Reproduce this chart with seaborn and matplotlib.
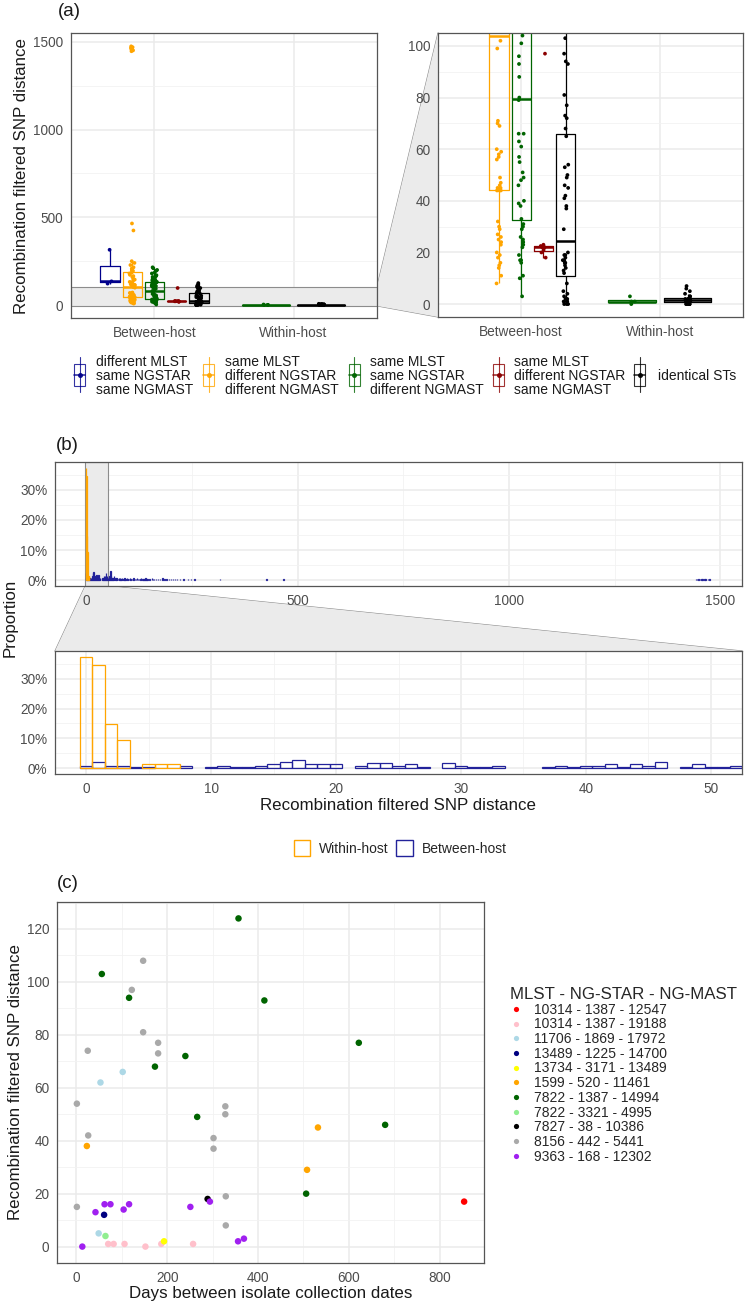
import numpy as np
import pandas as pd
import matplotlib
matplotlib.use("Agg")
import matplotlib.pyplot as plt
from matplotlib.patches import Polygon, Rectangle, Patch
from matplotlib.lines import Line2D
from matplotlib.ticker import MultipleLocator, PercentFormatter
import seaborn as sns

sns.set_style("white")
plt.rcParams["font.family"] = ["Liberation Sans", "DejaVu Sans"]

W, H = 745, 1306

# ── (a) SNP distance by ST-difference group ──────────────────────────
HOSTS = ["Between-host", "Within-host"]
GROUP_LABELS = [
    "different MLST\nsame NGSTAR\nsame NGMAST",
    "same MLST\ndifferent NGSTAR\ndifferent NGMAST",
    "same MLST\nsame NGSTAR\ndifferent NGMAST",
    "same MLST\ndifferent NGSTAR\nsame NGMAST",
    "identical STs",
]
GROUP_COLORS = ["#00008B", "#FFA500", "#006400", "#8B0000", "#000000"]

bh_diff_mlst = [122, 135, 315]
bh_diff_star_mast = [102, 99, 71, 70, 69, 60, 59, 58, 57, 56, 49, 47, 46, 45, 45, 44, 44, 44,
                     32, 30, 29, 27, 26, 25, 24, 23, 20, 19, 18, 16, 15, 14, 11, 8,
                     1475, 1470, 1466, 1462, 1458, 1452, 1447, 465, 425, 250, 240, 228, 215,
                     208, 200, 195, 192, 185, 180, 172, 165, 160, 150, 145, 140, 132, 128,
                     122, 118, 115, 112, 110, 108, 106]
bh_diff_mast = [104, 101, 96, 93, 88, 80, 79, 66, 66, 63, 61, 57, 55, 51, 49, 48, 46, 40, 39,
                38, 33, 31, 30, 29, 26, 25, 24, 23, 22, 19, 17, 17, 16, 11, 10, 3,
                108, 110, 112, 115, 118, 120, 125, 128, 132, 138, 140, 142, 145, 150, 155,
                160, 165, 170, 180, 185, 195, 200, 210, 215]
bh_diff_star = [18, 20, 21, 22, 22, 22.5, 23, 97]
bh_identical = [8, 5, 4, 3, 2, 2, 1, 1, 1, 0, 0, 0,
                12, 13, 14, 15, 16, 16, 17, 17, 18, 19, 19, 20,
                29, 37, 38, 41, 42, 45, 46, 49, 50, 53, 54, 65,
                68, 72, 73, 77, 81, 93, 94, 97, 103, 110, 118, 125]
wh_diff_mast = [0, 1, 1, 3]
wh_identical = [0, 0, 0, 0, 0, 0, 1, 1, 1, 1, 1, 1, 2, 2, 2, 2, 2, 2, 3, 3, 4, 5, 6, 7]

# ── (b) histogram of SNP distances (counts per integer distance) ─────
within_snp = [0, 1, 2, 3, 5, 6, 7]
within_n = [28, 26, 11, 7, 1, 1, 1]
between_snp = [0, 1, 2, 3, 4, 5, 8, 10, 11, 12, 13, 14, 15, 16, 17, 18, 19, 20, 22, 23, 24, 25,
               26, 27, 29, 30, 31, 32, 33, 37, 38, 39, 40, 41, 42, 43, 44, 45, 46, 48, 49, 50,
               51, 52, 53, 54, 55, 56, 57, 58, 59, 60, 61, 62, 63, 64, 65, 66, 68, 69, 70, 71,
               72, 73, 75, 77, 79, 80, 81, 83, 85, 87, 88, 90, 93, 94, 96, 97, 99, 101, 103,
               105, 108, 110, 112, 115, 118, 120, 122, 125, 128, 130, 133, 135, 138, 140, 142,
               145, 150, 155, 158, 160, 165, 170, 175, 180, 185, 190, 195, 200, 205, 210, 215,
               222, 230, 240, 248, 256, 316, 426, 466, 1442, 1445, 1448, 1452, 1455, 1458,
               1462, 1465, 1470, 1474]
between_n = [2, 5, 2, 2, 1, 1, 2, 1, 2, 1, 1, 2, 3, 5, 6, 3, 3, 3, 2, 4, 4, 2,
             3, 1, 4, 2, 1, 1, 2, 1, 2, 1, 2, 2, 3, 1, 3, 2, 5, 1, 3, 1,
             1, 2, 1, 2, 3, 1, 7, 1, 3, 2, 1, 2, 1, 2, 1, 3, 1, 2, 1, 2,
             1, 2, 1, 2, 1, 2, 1, 1, 2, 1, 1, 2, 1, 1, 2, 1, 1, 1, 2,
             1, 1, 1, 2, 1, 1, 2, 1, 1, 1, 2, 1, 1, 1, 2, 1,
             1, 1, 2, 1, 1, 1, 1, 1, 2, 1, 1, 1, 1, 1, 1, 1,
             1, 1, 1, 1, 1, 1, 1, 1, 1, 1, 1, 1, 1, 1,
             1, 1, 1, 1]

# ── (c) SNP distance vs days between collection dates ────────────────
ST_ORDER = ["10314 - 1387 - 12547", "10314 - 1387 - 19188", "11706 - 1869 - 17972",
            "13489 - 1225 - 14700", "13734 - 3171 - 13489", "1599 - 520 - 11461",
            "7822 - 1387 - 14994", "7822 - 3321 - 4995", "7827 - 38 - 10386",
            "8156 - 442 - 5441", "9363 - 168 - 12302"]
ST_COLORS = ["#FF0000", "#FFC0CB", "#ADD8E6", "#000080", "#FFFF00", "#FFA500",
             "#006400", "#90EE90", "#000000", "#A9A9A9", "#A020F0"]
c_st = (["10314 - 1387 - 12547"] * 1 + ["10314 - 1387 - 19188"] * 6 + ["11706 - 1869 - 17972"] * 3
        + ["13489 - 1225 - 14700"] * 1 + ["13734 - 3171 - 13489"] * 1 + ["1599 - 520 - 11461"] * 3
        + ["7822 - 1387 - 14994"] * 10 + ["7822 - 3321 - 4995"] * 1 + ["7827 - 38 - 10386"] * 1
        + ["8156 - 442 - 5441"] * 15 + ["9363 - 168 - 12302"] * 10)
c_days = [854,
          70, 82, 106, 152, 187, 257,
          102, 53, 49,
          61,
          193,
          532, 23, 508,
          357, 56, 116, 414, 622, 240, 173, 266, 680, 506,
          64,
          289,
          147, 122, 147, 180, 25, 180, 1, 328, 328, 26, 302, 302, 329, 1, 329,
          294, 42, 62, 75, 116, 104, 251, 13, 356, 369]
c_snp = [17,
         1, 1, 1, 0, 1, 1,
         66, 62, 5,
         12,
         2,
         45, 38, 29,
         124, 103, 94, 93, 77, 72, 68, 49, 46, 20,
         4,
         18,
         108, 97, 81, 77, 74, 73, 54, 53, 50, 42, 41, 37, 19, 15, 8,
         17, 13, 16, 16, 16, 14, 15, 0, 2, 3]

# ── figure ───────────────────────────────────────────────────────────
fig = plt.figure(figsize=(W / 100, H / 100), dpi=100)
TITLE_FS = 12.2


def px_axes(l, t, r, b):
    return fig.add_axes([l / W, 1 - b / H, (r - l) / W, (b - t) / H])


def theme_bw(ax, xmaj=None, xmin=None, ymaj=None, ymin=None):
    for s in ax.spines.values():
        s.set_color("#555555")
        s.set_linewidth(0.9)
    if xmaj:
        ax.xaxis.set_major_locator(MultipleLocator(xmaj))
        ax.xaxis.set_minor_locator(MultipleLocator(xmin))
    if ymaj:
        ax.yaxis.set_major_locator(MultipleLocator(ymaj))
        ax.yaxis.set_minor_locator(MultipleLocator(ymin))
    ax.grid(True, which="major", color="#EBEBEB", lw=1.1)
    ax.grid(True, which="minor", color="#F2F2F2", lw=0.6)
    ax.set_axisbelow(True)
    ax.tick_params(which="major", length=3, width=0.8, color="#333333",
                   labelcolor="#4D4D4D", labelsize=9.8, pad=2.5)
    ax.tick_params(which="minor", length=0)


def to_fig(ax, x, y):
    return fig.transFigure.inverted().transform(ax.transData.transform((x, y)))


# ── panel (a) ────────────────────────────────────────────────────────
rows = []
for grp, vals in zip(GROUP_LABELS, [bh_diff_mlst, bh_diff_star_mast, bh_diff_mast, bh_diff_star, bh_identical]):
    rows += [("Between-host", grp, v) for v in vals]
for grp, vals in zip([GROUP_LABELS[2], GROUP_LABELS[4]], [wh_diff_mast, wh_identical]):
    rows += [("Within-host", grp, v) for v in vals]
df_a = pd.DataFrame(rows, columns=["host", "group", "snp"])
pal_a = dict(zip(GROUP_LABELS, GROUP_COLORS))

np.random.seed(7)


def draw_a(ax):
    for host, jit in [("Between-host", 0.1), ("Within-host", 0.04)]:
        sub = df_a[df_a.host == host]
        levels = [g for g in GROUP_LABELS if g in set(sub.group)]
        sns.boxplot(data=sub, x="host", y="snp", hue="group", order=HOSTS, hue_order=levels,
                    palette=pal_a, dodge=True, width=0.8, gap=0.14, fill=False,
                    showfliers=False, showcaps=False, linewidth=0.9,
                    medianprops={"linewidth": 1.8}, legend=False, ax=ax)
        sns.stripplot(data=sub, x="host", y="snp", hue="group", order=HOSTS, hue_order=levels,
                      palette=pal_a, dodge=True, jitter=jit, size=2.7, legend=False,
                      ax=ax, zorder=3)
    ax.set_xlim(-0.6, 1.6)
    ax.set_xlabel("")
    ax.set_ylabel("")


ax_a1 = px_axes(71, 33, 377, 318)
draw_a(ax_a1)
ax_a1.set_ylim(-74, 1551)
theme_bw(ax_a1, ymaj=500, ymin=250)
ax_a1.xaxis.grid(False, which="minor")
ax_a1.axhspan(-5, 105, facecolor="#EBEBEB", edgecolor="#8C8C8C", lw=0.8, zorder=0.7)
ax_a1.set_ylabel("Recombination filtered SNP distance", fontsize=TITLE_FS, color="#1A1A1A", labelpad=3)

ax_a2 = px_axes(438, 33, 743, 317)
draw_a(ax_a2)
ax_a2.set_ylim(-5, 105)
theme_bw(ax_a2, ymaj=20, ymin=10)
ax_a2.xaxis.grid(False, which="minor")

# zoom connector (a)
p1 = to_fig(ax_a1, 1.6, 105)
p2 = to_fig(ax_a1, 1.6, -5)
q1 = to_fig(ax_a2, -0.6, 105)
q2 = to_fig(ax_a2, -0.6, -5)
fig.patches.append(Polygon([p1, q1, q2, p2], closed=True, transform=fig.transFigure,
                           facecolor="#EBEBEB", edgecolor="none", zorder=-1))
for a, b in [(p1, q1), (p2, q2)]:
    fig.lines.append(Line2D([a[0], b[0]], [a[1], b[1]], transform=fig.transFigure,
                            color="#8C8C8C", lw=0.8, zorder=-1))

# legend (a)
lax = fig.add_axes([0, 1 - 405 / H, 1, 60 / H])
lax.set_xlim(0, W)
lax.set_ylim(405, 345)
lax.axis("off")
key_x = [79.5, 208.7, 354, 498.8, 639.8]
text_x = [95.5, 224.8, 370, 514.5, 657.6]
KY = 375
for kx, tx, lab, col in zip(key_x, text_x, GROUP_LABELS, GROUP_COLORS):
    lax.plot([kx, kx], [KY - 18, KY + 17], color=col, lw=0.8, alpha=0.8)
    lax.add_patch(Rectangle((kx - 5.5, KY - 11), 11, 22, facecolor="white", edgecolor=col, lw=0.8, alpha=0.8))
    lax.plot([kx - 5.5, kx + 5.5], [KY, KY], color=col, lw=1.2, alpha=0.8)
    lax.plot([kx], [KY], "o", color=col, ms=2.6, alpha=0.9)
    lax.text(tx, KY + 0.5, lab, fontsize=10, va="center", ha="left", color="#1A1A1A", linespacing=1.0)

# ── panel (b) ────────────────────────────────────────────────────────
df_b = pd.DataFrame({
    "snp": within_snp + between_snp,
    "n": within_n + between_n,
    "host": ["Within-host"] * len(within_snp) + ["Between-host"] * len(between_snp),
})
pal_b = {"Within-host": "#FFA500", "Between-host": "#22229A"}

ax_b1 = px_axes(55, 462, 742, 586)
ax_b2 = px_axes(55, 651, 742, 774)
for ax in (ax_b1, ax_b2):
    sns.histplot(data=df_b, x="snp", weights="n", hue="host", hue_order=["Within-host", "Between-host"],
                 palette=pal_b, discrete=True, stat="proportion", common_norm=False,
                 fill=False, element="bars", linewidth=0.9, legend=False, ax=ax)
    for p in list(ax.patches):
        if p.get_height() == 0:
            p.remove()
    ax.set_ylim(-0.0187, 0.392)
    ax.set_xlabel("")
    ax.set_ylabel("")
ax_b1.set_xlim(-74, 1551)
theme_bw(ax_b1, xmaj=500, xmin=250, ymaj=0.1, ymin=0.05)
ax_b2.set_xlim(-2.5, 52.5)
theme_bw(ax_b2, xmaj=10, xmin=5, ymaj=0.1, ymin=0.05)
for ax in (ax_b1, ax_b2):
    ax.yaxis.set_major_formatter(PercentFormatter(xmax=1, decimals=0))
ax_b1.axvspan(-2.5, 52.5, facecolor="#EBEBEB", edgecolor="#8C8C8C", lw=0.8, zorder=0.7)
ax_b2.set_xlabel("Recombination filtered SNP distance", fontsize=TITLE_FS, color="#1A1A1A", labelpad=2)
fig.text(10 / W, 1 - 618 / H, "Proportion", rotation=90, fontsize=TITLE_FS, color="#1A1A1A",
         ha="center", va="center")

# zoom connector (b)
p1 = to_fig(ax_b1, -2.5, -0.0187)
p2 = to_fig(ax_b1, 52.5, -0.0187)
q1 = to_fig(ax_b2, -2.5, 0.392)
q2 = to_fig(ax_b2, 52.5, 0.392)
fig.patches.append(Polygon([p1, p2, q2, q1], closed=True, transform=fig.transFigure,
                           facecolor="#EBEBEB", edgecolor="none", zorder=-1))
for a, b in [(p1, q1), (p2, q2)]:
    fig.lines.append(Line2D([a[0], b[0]], [a[1], b[1]], transform=fig.transFigure,
                            color="#8C8C8C", lw=0.8, zorder=-1))

fig.legend(handles=[Patch(facecolor="white", edgecolor="#FFA500", lw=1.0, label="Within-host"),
                    Patch(facecolor="white", edgecolor="#22229A", lw=1.0, label="Between-host")],
           loc="center", bbox_to_anchor=(400 / W, 1 - 848 / H), ncol=2, frameon=False,
           fontsize=10, handlelength=1.2, handleheight=1.4, columnspacing=0.6, handletextpad=0.6)

# ── panel (c) ────────────────────────────────────────────────────────
df_c = pd.DataFrame({"days": c_days, "snp": c_snp, "st": c_st})
ax_c = px_axes(57, 902, 484, 1263)
sns.scatterplot(data=df_c, x="days", y="snp", hue="st", hue_order=ST_ORDER,
                palette=dict(zip(ST_ORDER, ST_COLORS)), s=22, linewidth=0, ax=ax_c)
ax_c.set_xlim(-42.75, 897.75)
ax_c.set_ylim(-6.2, 130.2)
theme_bw(ax_c, xmaj=200, xmin=100, ymaj=20, ymin=10)
ax_c.set_xlabel("Days between isolate collection dates", fontsize=TITLE_FS, color="#1A1A1A", labelpad=1)
ax_c.set_ylabel("Recombination filtered SNP distance", fontsize=TITLE_FS, color="#1A1A1A", labelpad=3)
sns.move_legend(ax_c, "upper left", bbox_to_anchor=(510 / W, 1 - 987 / H),
                bbox_transform=fig.transFigure, title="MLST - NG-STAR - NG-MAST",
                frameon=False, fontsize=10, title_fontsize=12.2, labelspacing=0.05,
                handlelength=0.9, handletextpad=0.8, markerscale=0.8, alignment="left",
                borderaxespad=0, borderpad=0)

# panel tags
fig.text(58 / W, 1 - 11 / H, "(a)", fontsize=13.5, va="center", color="#1A1A1A")
fig.text(56 / W, 1 - 445 / H, "(b)", fontsize=13.5, va="center", color="#1A1A1A")
fig.text(57 / W, 1 - 883 / H, "(c)", fontsize=13.5, va="center", color="#1A1A1A")

fig.savefig("out.png", dpi=100)
